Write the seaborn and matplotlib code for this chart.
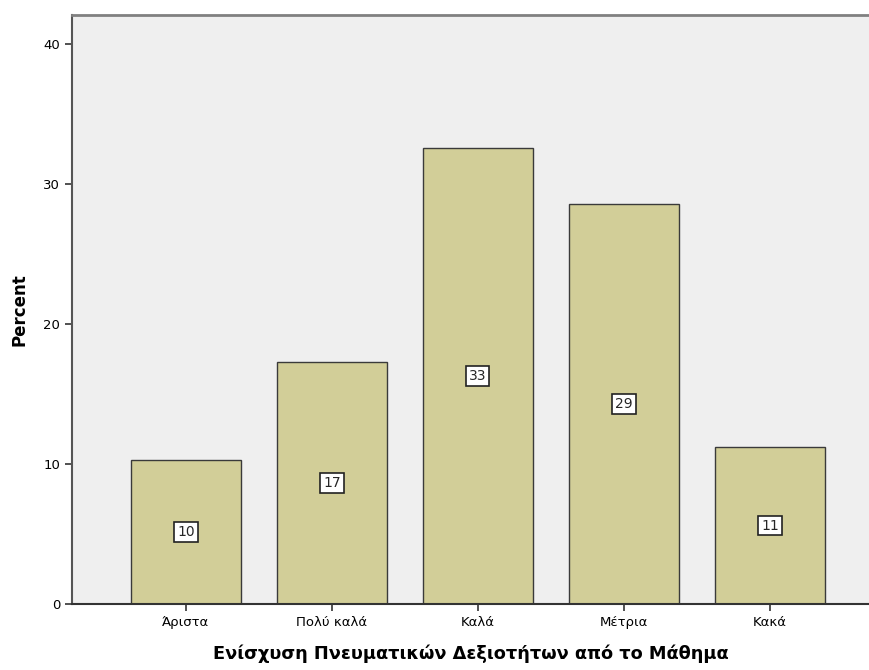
import matplotlib
matplotlib.use("Agg")
import matplotlib.pyplot as plt
import seaborn as sns
import pandas as pd

categories = ["Άριστα", "Πολύ καλά", "Καλά", "Μέτρια", "Κακά"]
percents = [10.3, 17.3, 32.6, 28.6, 11.2]
y_ticks = [0, 10, 20, 30, 40]

sns.set_style("white")
plt.rcParams["font.family"] = ["DejaVu Sans"]

df = pd.DataFrame({"category": categories, "percent": percents})

fig = plt.figure(figsize=(8.7, 6.7), dpi=100)
ax = fig.add_axes([0.0828, 0.0985, 0.9172, 0.8791])
ax.set_facecolor("#EFEFEF")

sns.barplot(data=df, x="category", y="percent", color="#D2CE98",
            saturation=1, width=0.753, edgecolor="#3A3A3A", linewidth=1, ax=ax)

# boxed value labels in the middle of each bar
for c in ax.containers:
    ax.bar_label(c, fmt="{:.0f}", label_type="center", fontsize=10,
                 bbox=dict(boxstyle="square,pad=0.2", fc="white", ec="#222222", lw=1.2))

ax.set_xlim(-0.78, 4.685)
ax.set_ylim(0, 42.07)
ax.set_yticks(y_ticks)

ax.spines["right"].set_visible(False)
ax.spines["top"].set_color("#808080")
ax.spines["top"].set_linewidth(2)
ax.spines["left"].set_color("#555555")
ax.spines["left"].set_linewidth(1.5)
ax.spines["bottom"].set_color("#333333")
ax.spines["bottom"].set_linewidth(1.5)

ax.tick_params(axis="both", direction="out", length=5, width=1.2,
               color="#333333", labelcolor="black", labelsize=9.5,
               bottom=True, left=True)

ax.set_xlabel("Ενίσχυση Πνευματικών Δεξιοτήτων από το Μάθημα",
              fontsize=12.8, fontweight="bold", color="black", labelpad=11)
ax.set_ylabel("Percent", fontsize=12, fontweight="bold", color="black", labelpad=11)

fig.savefig("out.png", dpi=100)
plt.close(fig)
